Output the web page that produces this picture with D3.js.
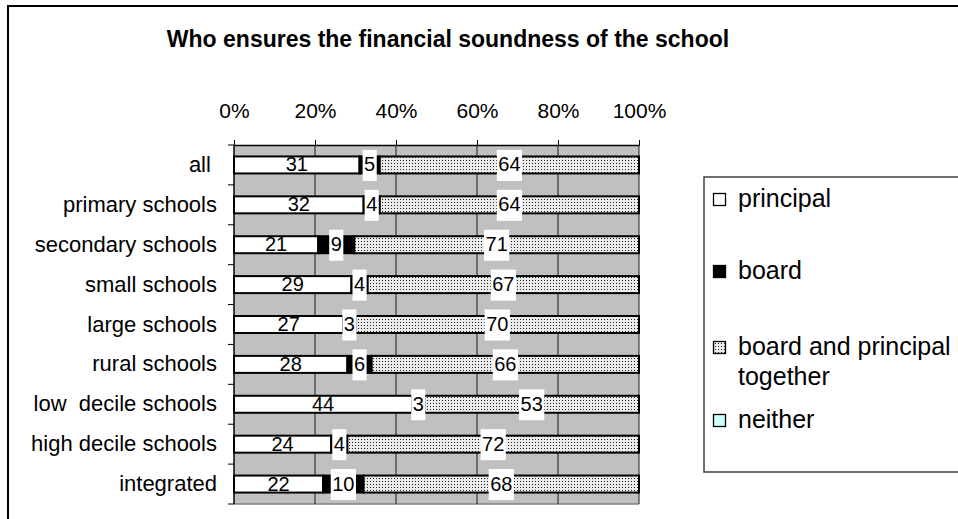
<!DOCTYPE html>
<html>
<head>
<meta charset="utf-8">
<script src="https://cdn.jsdelivr.net/npm/d3@7"></script>
<style>
  html, body { margin: 0; padding: 0; background: #fff; }
  svg { display: block; font-family: Arial, "Liberation Sans", sans-serif; }
</style>
</head>
<body>
<svg id="chart" width="958" height="519"></svg>
<script>
// ---- data ----
const title = "Who ensures the financial soundness of the school";
const categories = ["all ", "primary schools", "secondary schools", "small schools", "large schools",
  "rural schools", "low  decile schools", "high decile schools", "integrated"];
const seriesNames = ["principal", "board", "board and principal together", "neither"];
const principal = [31, 32, 21, 29, 27, 28, 44, 24, 22];
const board     = [5, 4, 9, 4, 3, 6, 3, 4, 10];
const together  = [64, 64, 71, 67, 70, 66, 53, 72, 68];
const neither   = [0, 0, 0, 0, 0, 0, 0, 0, 0];
const tickValues = [0, 0.2, 0.4, 0.6, 0.8, 1];

// ---- layout ----
const svg = d3.select("#chart");
const plot = { x0: 234, x1: 639, y0: 145, y1: 504 };

const defs = svg.append("defs");
const pat = defs.append("pattern").attr("id", "dots").attr("patternUnits", "userSpaceOnUse")
  .attr("width", 3).attr("height", 3);
pat.append("rect").attr("width", 3).attr("height", 3).attr("fill", "#ebebeb");
pat.append("rect").attr("x", 1).attr("y", 1).attr("width", 1).attr("height", 1).attr("fill", "#1e1e1e");

const fills = ["#ffffff", "#000000", "url(#dots)", "#ccffff"];

// outer frame
svg.append("rect").attr("x", 8).attr("y", 6).attr("width", 1000).attr("height", 1000)
  .attr("fill", "none").attr("stroke", "#000").attr("stroke-width", 2);

// title
svg.append("text").attr("x", 448).attr("y", 47).attr("text-anchor", "middle")
  .attr("font-size", 23).attr("font-weight", "bold").text(title);

const x = d3.scaleLinear().domain([0, 1]).range([plot.x0, plot.x1]);
const y = d3.scaleBand().domain(categories).range([plot.y0, plot.y1]).padding(0);
const barH = 17;

// plot background
svg.append("rect").attr("x", plot.x0).attr("y", plot.y0)
  .attr("width", plot.x1 - plot.x0).attr("height", plot.y1 - plot.y0).attr("fill", "#c0c0c0");
svg.append("line").attr("x1", plot.x0).attr("x2", plot.x1).attr("y1", plot.y1).attr("y2", plot.y1)
  .attr("stroke", "#808080").attr("stroke-width", 1.5);

// gridlines
svg.append("g").selectAll("line").data(tickValues.slice(1)).join("line")
  .attr("x1", d => x(d)).attr("x2", d => x(d)).attr("y1", plot.y0).attr("y2", plot.y1)
  .attr("stroke", "#1a1a1a").attr("stroke-width", 1);

// stacked data (100% stacked)
const keys = ["principal", "board", "together", "neither"];
const rows = categories.map((c, i) => ({ cat: c, principal: principal[i], board: board[i], together: together[i], neither: neither[i] }));
const stack = d3.stack().keys(keys).offset(d3.stackOffsetExpand)(rows);

const gBars = svg.append("g");
stack.forEach((layer, li) => {
  gBars.append("g").selectAll("rect").data(layer.filter(d => d.data[keys[li]] > 0)).join("rect")
    .attr("x", d => x(d[0]))
    .attr("width", d => x(d[1]) - x(d[0]))
    .attr("y", d => y(d.data.cat) + y.bandwidth() / 2 - barH / 2)
    .attr("height", barH)
    .attr("fill", fills[li]).attr("stroke", "#000").attr("stroke-width", 2);
});

// labels
const gLab = svg.append("g").attr("font-size", 20);
stack.forEach((layer, li) => {
  layer.forEach(d => {
    const v = d.data[keys[li]];
    if (v <= 0) return;
    const cx = (x(d[0]) + x(d[1])) / 2;
    const cy = y(d.data.cat) + y.bandwidth() / 2;
    const g = gLab.append("g");
    const bg = g.append("rect").attr("fill", "#fff");
    const t = g.append("text").attr("x", cx).attr("y", cy + 6.5).attr("text-anchor", "middle").text(v);
    if (li > 0) {
      const w = t.node().getComputedTextLength();
      bg.attr("x", cx - w / 2 - 1.5).attr("width", w + 3).attr("y", cy - 15).attr("height", 31);
    } else {
      bg.remove();
    }
  });
});

// top axis
const axTop = svg.append("g").attr("transform", `translate(0,${plot.y0})`)
  .call(d3.axisTop(x).tickValues(tickValues).tickFormat(d3.format(".0%")).tickSize(5).tickSizeOuter(0).tickPadding(22));
axTop.select(".domain").attr("stroke", "#000").attr("stroke-width", 1.5);
axTop.selectAll(".tick line").attr("stroke", "#000").attr("stroke-width", 1);
axTop.selectAll("text").attr("font-size", 21).attr("font-family", "Arial, 'Liberation Sans', sans-serif").attr("fill", "#000");

// left axis
const axLeft = svg.append("g").attr("transform", `translate(${plot.x0},0)`)
  .call(d3.axisLeft(y).tickSize(0).tickPadding(17));
axLeft.select(".domain").remove();
axLeft.selectAll("text").attr("font-size", 22).attr("font-family", "Arial, 'Liberation Sans', sans-serif")
  .attr("fill", "#000").style("white-space", "pre");
svg.append("line").attr("x1", plot.x0).attr("x2", plot.x0).attr("y1", plot.y0).attr("y2", plot.y1)
  .attr("stroke", "#000").attr("stroke-width", 1.5);
const bounds = categories.map(c => y(c)).concat([plot.y1]);
svg.append("g").selectAll("line").data(bounds).join("line")
  .attr("x1", plot.x0 - 6).attr("x2", plot.x0).attr("y1", d => d).attr("y2", d => d)
  .attr("stroke", "#000").attr("stroke-width", 1);

// legend
const lg = svg.append("g");
lg.append("rect").attr("x", 704).attr("y", 177).attr("width", 300).attr("height", 295)
  .attr("fill", "#fff").attr("stroke", "#404040").attr("stroke-width", 1.5);
const legendLines = [["principal"], ["board"], ["board and principal", "together"], ["neither"]];
const legendBase = [207, 279, 355, 428];
legendLines.forEach((lines, i) => {
  const b = legendBase[i];
  lg.append("rect").attr("x", 713.5).attr("y", b - 13.5).attr("width", 12).attr("height", 12)
    .attr("fill", fills[i]).attr("stroke", "#000").attr("stroke-width", 1.3);
  lines.forEach((ln, j) => {
    lg.append("text").attr("x", 738).attr("y", b + j * 30).attr("font-size", 25).text(ln);
  });
});
</script>
</body>
</html>
